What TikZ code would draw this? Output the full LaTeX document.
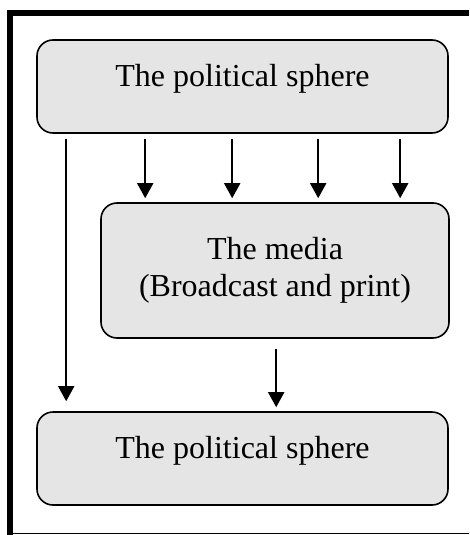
\documentclass[tikz,border=0pt]{standalone}
\usepackage{fontspec}
\setmainfont{Liberation Serif}
\usetikzlibrary{positioning}
\usetikzlibrary{calc}
\usetikzlibrary{arrows.meta}

\tikzset{
  sphere/.style={draw,line width=1.6pt,rounded corners=16pt,fill=black!10,
    align=center,font=\fontsize{32}{37}\selectfont,inner sep=0pt},
  oneline/.style={minimum width=411pt,minimum height=93pt,text depth=23pt},
  arr/.style={line width=1.8pt,-{Triangle[length=15pt,width=16pt]}}
}

\begin{document}
\begin{tikzpicture}[x=1pt,y=1pt]
  \useasboundingbox (0,0) rectangle (469,-535);
  % frame
  \draw[line width=6pt] (7,-13) -- (469,-13);
  \draw[line width=6pt] (10,-10) -- (10,-535);
  \draw[line width=1pt] (7,-533.5) -- (469,-533.5);
  % boxes
  \node[sphere,oneline] (pol) at (242.5,-86.5) {The political sphere};
  \node[sphere,minimum width=348pt,minimum height=135pt] (med) at (275,-270.5) {The media\\(Broadcast and print)};
  \node[sphere,oneline] (pol2) at (242.5,-458.5) {The political sphere};
  % arrows
  \foreach \dx in {45,132,218,300}
    \draw[arr] ($(med.north west |- pol.south)+(\dx,-5)$) -- ($(med.north west)+(\dx,4)$);
  \draw[arr] ($(pol.south west)+(30,-5)$) -- ($(pol2.north west)+(30,10)$);
  \draw[arr] ($(med.south west)+(176,-10)$) -- ($(pol2.north west -| med.south west)+(176,4)$);
\end{tikzpicture}
\end{document}
